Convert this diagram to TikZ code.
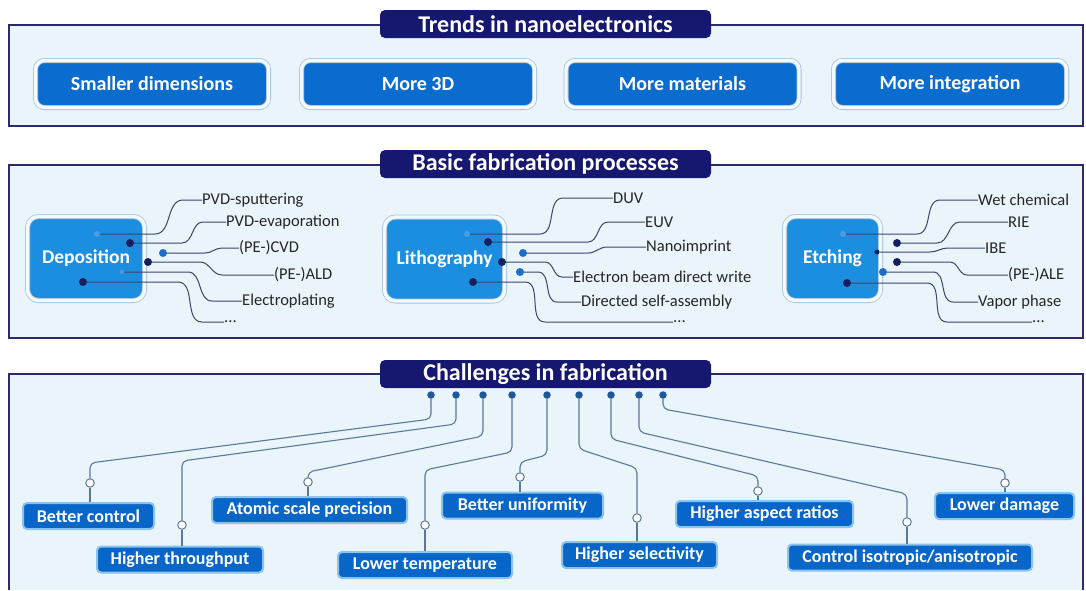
\documentclass[tikz,border=0pt]{standalone}
\usepackage{fontspec}
\setmainfont{Carlito}
\definecolor{navy}{HTML}{16176E}
\definecolor{framec}{HTML}{2B2B6B}
\definecolor{panel}{HTML}{EAF4FB}
\definecolor{btnc}{HTML}{0B6CD0}
\definecolor{ringc}{HTML}{A8C4DC}
\definecolor{ringin}{HTML}{F4F9FD}
\definecolor{procc}{HTML}{1C8EE0}
\definecolor{wirec}{HTML}{3A4768}
\definecolor{dotdk}{HTML}{16205E}
\definecolor{dotbl}{HTML}{1E6CCB}
\definecolor{dotlt}{HTML}{4E9CE2}
\definecolor{chalc}{HTML}{0766C8}
\definecolor{glow}{HTML}{8CC3EE}
\definecolor{linkc}{HTML}{5C7899}
\definecolor{tapc}{HTML}{1F5799}
\definecolor{txtc}{HTML}{262626}
\begin{document}
\begin{tikzpicture}[x=1pt,y=-1pt,
    frame/.style={draw=framec,line width=1.8pt,fill=panel},
    head/.style={fill=navy,rounded corners=5pt,text=white,inner sep=0pt,
      minimum width=331pt,minimum height=28pt,font=\bfseries\fontsize{24}{26}\selectfont},
    trend/.style={draw=ringc,double=ringin,double distance=3.4pt,line width=.8pt,
      fill=btnc,rounded corners=9pt,text=white,inner sep=0pt,
      minimum width=233pt,minimum height=47pt,font=\bfseries\fontsize{20}{22}\selectfont},
    proc/.style={draw=ringc,double=ringin,double distance=3.4pt,line width=.8pt,
      fill=procc,rounded corners=11pt,text=white,inner sep=0pt,
      minimum height=84pt,font=\bfseries\fontsize{19.5}{22}\selectfont},
    item/.style={anchor=west,inner sep=0pt,text=txtc,font=\fontsize{16.5}{18}\selectfont},
    wire/.style={draw=wirec,line width=1pt},
    dk/.style={circle,fill=dotdk,inner sep=0pt,minimum size=8pt},
    bl/.style={circle,fill=dotbl,inner sep=0pt,minimum size=8pt},
    lt/.style={circle,fill=dotlt,inner sep=0pt,minimum size=6pt},
    chal/.style={fill=chalc,draw=glow,line width=2pt,rounded corners=4pt,text=white,
      inner sep=0pt,minimum height=26pt,font=\bfseries\fontsize{18}{20}\selectfont},
    tap/.style={circle,fill=tapc,inner sep=0pt,minimum size=7.5pt},
    hole/.style={circle,draw=linkc,fill=white,line width=1pt,inner sep=0pt,minimum size=8.5pt},
    link/.style={draw=linkc,line width=1.1pt,rounded corners=5pt}]
  \useasboundingbox (0,0) rectangle (1086,590);
  % panels
  \draw[frame] (9,25) rectangle (1083,126);
  \draw[frame] (9,165) rectangle (1083,338);
  \fill[panel] (9,374) rectangle (1083,590);
  \draw[framec,line width=1.8pt] (9,590) -- (9,374) -- (1083,374) -- (1083,590);
  \node[head] (t1) at (545.5,24) {Trends in nanoelectronics};
  \node[head] (t2) at (545.5,164) {Basic fabrication processes};
  \node[head] (t3) at (545.5,374) {Challenges in fabrication};

  % trends
  \node[trend] (small) at (152,84) {Smaller dimensions};
  \node[trend] (threed) at (418,84) {More 3D};
  \node[trend] (mater) at (682.5,84) {More materials};
  \node[trend] (integ) at (950,84) {More integration};

  % processes
  \node[proc,minimum width=117pt] (dep) at (86,258.5) {Deposition};
  \node[proc,minimum width=120pt] (lith) at (444.5,259) {Lithography};
  \node[proc,minimum width=96pt] (etch) at (832.5,258.5) {Etching};

  \node[lt] (dep1) at (97,234) {};
  \node[dk] (dep2) at (130,243) {};
  \node[bl] (dep3) at (163,253) {};
  \node[dk] (dep4) at (148,262) {};
  \node[lt,minimum size=4pt] (dep5) at (122,272) {};
  \node[dk] (dep6) at (83,282) {};
  \node[item] (pvds) at (202,200) {PVD-sputtering};
  \node[item] (pvde) at (226,222) {PVD-evaporation};
  \node[item] (cvd) at (239,248) {(PE-)CVD};
  \node[item] (ald) at (274,275) {(PE-)ALD};
  \node[item] (plat) at (242,301) {Electroplating};
  \node[item] (depx) at (224,322) {...};

  \node[lt] (lit1) at (467,234) {};
  \node[dk] (lit2) at (488,242) {};
  \node[bl] (lit3) at (523,253) {};
  \node[dk] (lit4) at (502,262) {};
  \node[bl] (lit5) at (520,272) {};
  \node[dk] (lit6) at (473,282) {};
  \node[item] (duv) at (613,198) {DUV};
  \node[item] (euv) at (645,222) {EUV};
  \node[item] (nano) at (646,247) {Nanoimprint};
  \node[item] (ebdw) at (573,277) {Electron beam direct write};
  \node[item] (dsa) at (581,302) {Directed self-assembly};
  \node[item] (litx) at (673,322) {...};

  \node[lt] (etc1) at (843,234) {};
  \node[dk] (etc2) at (897,243) {};
  \node[dk,minimum size=5pt] (etc3) at (877,252) {};
  \node[dk] (etc4) at (897,262) {};
  \node[bl] (etc5) at (883,272) {};
  \node[dk] (etc6) at (847,283) {};
  \node[item] (wet) at (978,200) {Wet chemical};
  \node[item] (rie) at (1008,222) {RIE};
  \node[item] (ibe) at (985,248) {IBE};
  \node[item] (ale) at (1008,275) {(PE-)ALE};
  \node[item] (vap) at (978,302) {Vapor phase};
  \node[item] (etcx) at (1032,322) {...};

  \foreach \dt/\lb/\ra/\rb in {dep1/pvds/58/19, dep2/pvde/52/23, dep3/cvd/42/17,
      dep4/ald/52/52, dep5/plat/66/30, dep6/depx/95/22,
      lit1/duv/73/50, lit2/euv/100/37, lit3/nano/65/39,
      lit4/ebdw/43/11, lit5/dsa/18/24, lit6/litx/52/128,
      etc1/wet/74/38, etc2/rie/40/48, etc3/ibe/53/37,
      etc4/ale/53/41, etc5/vap/50/25, etc6/etcx/80/85}
    \draw[wire] (\dt) -- ++(\ra,0) to[out=0,in=180] ([xshift=-\rb]\lb.west) -- (\lb.west);

  % challenges
  \foreach \x [count=\i] in {431,456,483,512,547,579,611,639,663}
    \node[tap] (d\i) at (\x,395) {};
  \node[chal,minimum width=131pt] (b1) at (88.5,516) {Better control};
  \node[chal,minimum width=166pt] (b2) at (180,559.5) {Higher throughput};
  \node[chal,minimum width=195pt] (b3) at (309.5,510) {Atomic scale precision};
  \node[chal,minimum width=174pt] (b4) at (425,565) {Lower temperature};
  \node[chal,minimum width=161pt] (b5) at (522.5,505.5) {Better uniformity};
  \node[chal,minimum width=155pt] (b6) at (639.5,555) {Higher selectivity};
  \node[chal,minimum width=177pt] (b7) at (764.5,514) {Higher aspect ratios};
  \node[chal,minimum width=244pt] (b8) at (910,557.5) {Control isotropic/anisotropic};
  \node[chal,minimum width=139pt] (b9) at (1004.5,506) {Lower damage};
  \foreach \x/\y [count=\i] in {90/483,182/525,308/482,425/525,520/477,
      637/518,758/491,907/522,1005/483}
    \node[hole] (h\i) at (\x,\y) {};
  \foreach \i/\ya/\yb in {1/419/463,2/424/461,3/436/472,4/452/470,5/455/462,
      6/449/468,7/439/476,8/432/494,9/409/470}
    \draw[link] (d\i) -- (d\i |- 0,\ya) -- (h\i |- 0,\yb) -- (h\i);
  \foreach \i in {1,...,9}
    \draw[link] (h\i) -- (h\i |- b\i.north);
\end{tikzpicture}
\end{document}
